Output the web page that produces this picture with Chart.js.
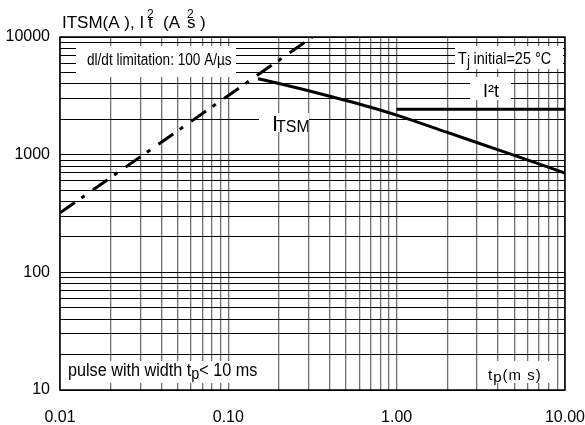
<!DOCTYPE html>
<html>
<head>
<meta charset="utf-8">
<script src="https://cdn.jsdelivr.net/npm/chart.js@4.4.1/dist/chart.umd.min.js"></script>
<style>
  html, body { margin: 0; padding: 0; background: #fff; }
  #wrap { width: 585px; height: 425px; }
</style>
</head>
<body>
<div id="wrap"><canvas id="surge" width="585" height="425"></canvas></div>
<script>
// -------------------------------
// DATA
// -------------------------------
const xMajor = [0.01, 0.1, 1, 10];
const xTickLabels = ["0.01", "0.10", "1.00", "10.00"];
const yMajor = [10, 100, 1000, 10000];
const yTickLabels = ["10", "100", "1000", "10000"];

// ITSM curve (A) vs pulse width tp (ms)
const itsmT = [0.15, 0.2, 0.3, 0.5, 0.7, 1, 2, 5, 10];
const itsmA = [4420, 4020, 3490, 2890, 2530, 2170, 1545, 986, 698];

// dI/dt limitation line
const dldtT = [0.01, 0.315];
const dldtA = [320, 10000];

// I²t level (A²s)
const i2tT = [1, 10];
const i2tV = [2430, 2430];

const FONT = '"Liberation Sans", Arial, Helvetica, sans-serif';

// 1..9 x 10^n grid for a list of decades
function gridValues(major) {
  const out = [];
  for (let i = 0; i < major.length - 1; i++) {
    for (let m = 1; m < 10; m++) out.push(major[i] * m);
  }
  out.push(major[major.length - 1]);
  return out;
}

function toPoints(xs, ys) {
  return xs.map((x, i) => ({ x: x, y: ys[i] }));
}

// run of text pieces, each [text, size, dy], squeezed horizontally by sx
function rich(ctx, x, y, sx, parts, spacing) {
  ctx.save();
  ctx.translate(x, y);
  ctx.scale(sx, 1);
  ctx.letterSpacing = (spacing || 0) + "px";
  let cx = 0;
  parts.forEach(p => {
    ctx.font = p[1] + "px " + FONT;
    ctx.fillText(p[0], cx, p[2] || 0);
    cx += ctx.measureText(p[0]).width;
  });
  ctx.restore();
}

// -------------------------------
// LABEL BOXES + FRAME
// -------------------------------
const labelsPlugin = {
  id: "labels",
  beforeDraw(chart) {
    const ctx = chart.ctx;
    ctx.save();
    ctx.fillStyle = "#fff";
    ctx.fillRect(0, 0, chart.width, chart.height);
    ctx.restore();
  },
  beforeDatasetsDraw(chart) {
    const ctx = chart.ctx;
    const a = chart.chartArea;
    ctx.save();

    // frame
    ctx.strokeStyle = "#000";
    ctx.lineWidth = 1.5;
    ctx.strokeRect(a.left, a.top, a.right - a.left, a.bottom - a.top);

    // white boxes behind the notes
    ctx.fillStyle = "#fff";
    ctx.fillRect(76, 46, 160, 31);    // dl/dt
    ctx.fillRect(455, 46, 108, 23);   // Tj initial
    ctx.fillRect(470, 77, 41, 23);    // I²t
    ctx.fillRect(259, 113, 50, 19);   // ITSM
    ctx.fillRect(61, 361, 201, 22);   // pulse width
    ctx.fillRect(478, 361, 77, 22);   // tp(ms)

    ctx.fillStyle = "#000";
    ctx.textBaseline = "alphabetic";
    ctx.textAlign = "left";

    rich(ctx, 87, 65, 0.85, [["dl/dt limitation: 100 A/µs", 16]]);
    rich(ctx, 458, 63.5, 0.85, [["T", 17]]);
    rich(ctx, 467, 66.5, 0.85, [["j", 16]]);
    rich(ctx, 473.5, 63.5, 0.85, [["initial=25 °C", 17]]);
    rich(ctx, 483, 96.5, 1, [["I²t", 18]]);
    rich(ctx, 272, 131, 1, [["I", 22]]);
    rich(ctx, 276, 132, 1, [["TSM", 16]]);
    rich(ctx, 68, 376, 0.9, [["pulse with width t", 18], ["p", 16, 3], ["< 10 ms", 18]]);
    rich(ctx, 488, 380, 1, [["t", 15], ["p", 15, 2], ["(m s)", 15]], 1);

    ctx.restore();
  },
  afterDraw(chart) {
    // axis title in the top margin
    const ctx = chart.ctx;
    ctx.save();
    ctx.fillStyle = "#000";
    ctx.textBaseline = "alphabetic";
    rich(ctx, 62, 28.3, 1, [["ITSM(A ), I", 17]]);
    rich(ctx, 147, 17.5, 1, [["2", 12]]);
    rich(ctx, 148, 28.3, 1, [["t", 17]]);
    rich(ctx, 163, 28.3, 1, [["(A", 17]]);
    rich(ctx, 187, 17.5, 1, [["2", 12]]);
    rich(ctx, 187, 28.3, 1, [["s", 17]]);
    rich(ctx, 200, 28.3, 1, [[")", 17]]);
    ctx.restore();
  }
};

// -------------------------------
// CHART
// -------------------------------
const lineStyle = { showLine: true, pointRadius: 0, borderColor: "#000", borderWidth: 3, fill: false };

new Chart(document.getElementById("surge").getContext("2d"), {
  type: "scatter",
  data: {
    datasets: [
      Object.assign({ label: "ITSM", data: toPoints(itsmT, itsmA), cubicInterpolationMode: "monotone" }, lineStyle),
      Object.assign({ label: "dI/dt", data: toPoints(dldtT, dldtA), borderDash: [18, 8, 4, 10] }, lineStyle),
      Object.assign({ label: "I2t", data: toPoints(i2tT, i2tV) }, lineStyle)
    ]
  },
  options: {
    responsive: false,
    animation: false,
    devicePixelRatio: 1,
    layout: { padding: { top: 37, right: 0, left: 0, bottom: 0 } },
    plugins: { legend: { display: false }, tooltip: { enabled: false } },
    scales: {
      x: {
        type: "logarithmic",
        min: 0.01,
        max: 10,
        afterBuildTicks: axis => { axis.ticks = gridValues(xMajor).map(v => ({ value: v })); },
        afterFit: axis => { axis.height = 35; },
        // invisible tick marks push the labels down without widening the axis
        grid: { color: "#707070", lineWidth: 1.3, drawTicks: true, tickLength: 18, tickColor: "rgba(0,0,0,0)" },
        border: { display: false },
        ticks: {
          autoSkip: false,
          maxRotation: 0,
          padding: 0,
          color: "#000",
          font: { family: FONT, size: 16 },
          callback: v => { const i = xMajor.indexOf(v); return i >= 0 ? xTickLabels[i] : ""; }
        }
      },
      y: {
        type: "logarithmic",
        min: 10,
        max: 10000,
        afterBuildTicks: axis => { axis.ticks = gridValues(yMajor).map(v => ({ value: v })); },
        afterFit: axis => { axis.width = 60; },
        grid: { color: "#000", lineWidth: 1, drawTicks: false },
        border: { display: false },
        ticks: {
          autoSkip: false,
          padding: 10,
          color: "#000",
          font: { family: FONT, size: 16 },
          callback: v => { const i = yMajor.indexOf(v); return i >= 0 ? yTickLabels[i] : ""; }
        }
      }
    }
  },
  plugins: [labelsPlugin]
});
</script>
</body>
</html>
